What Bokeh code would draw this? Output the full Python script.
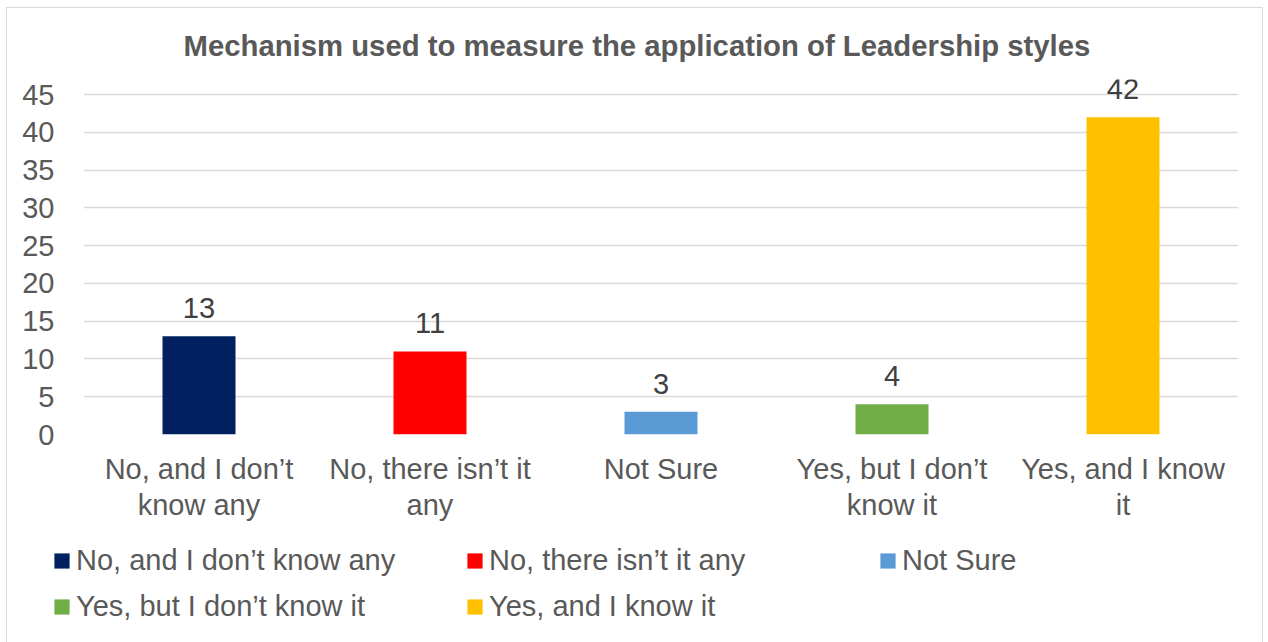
from bokeh.plotting import figure
from bokeh.layouts import column
from bokeh.models import (ColumnDataSource, FactorRange, Range1d, LabelSet, Legend,
                          LegendItem, FixedTicker)
from bokeh.core.properties import value
from bokeh.embed import file_html
from bokeh.resources import INLINE

categories = ["No, and I don\u2019t know any", "No, there isn\u2019t it any", "Not Sure",
              "Yes, but I don\u2019t know it", "Yes, and I know it"]
wrapped = ["No, and I don\u2019t\nknow any", "No, there isn\u2019t it\nany", "Not Sure",
           "Yes, but I don\u2019t\nknow it", "Yes, and I know\nit"]
values = [13, 11, 3, 4, 42]
colors = ["#002060", "#FF0000", "#5B9BD5", "#70AD47", "#FFC000"]
y_ticks = [0, 5, 10, 15, 20, 25, 30, 35, 40, 45]
title_text = "Mechanism used to measure the application of Leadership styles"

FONT = "Liberation Sans"
TXT = "#595959"

src = ColumnDataSource(dict(cat=wrapped, val=values, color=colors,
                            lab=[str(v) for v in values], name=categories))

# ---- main chart ----
p = figure(width=1255, height=530, x_range=FactorRange(*wrapped),
           y_range=Range1d(0, 47), output_backend="svg", toolbar_location=None,
           min_border_left=76, min_border_right=24, min_border_top=71,
           min_border_bottom=104)
p.outline_line_color = None
p.background_fill_color = "white"
p.border_fill_color = "white"

p.title.text = title_text
p.title.align = "left"
p.title.offset = 100
p.title.text_font = FONT
p.title.text_font_size = "29.3px"
p.title.text_font_style = "bold"
p.title.text_color = TXT
p.title.standoff = 35

p.vbar(x="cat", top="val", width=0.316, source=src, color="color", line_color=None)

labels = LabelSet(x="cat", y="val", text="lab", source=src, y_offset=18,
                  text_align="center", text_baseline="alphabetic",
                  text_font=value(FONT), text_font_size="29px", text_color="#404040")
p.add_layout(labels)

p.xgrid.grid_line_color = None
p.ygrid.grid_line_color = "#D9D9D9"
p.ygrid.grid_line_width = 1.5
p.yaxis.ticker = FixedTicker(ticks=y_ticks)
for ax in (p.xaxis[0], p.yaxis[0]):
    ax.axis_line_color = None
    ax.major_tick_line_color = None
    ax.minor_tick_line_color = None
    ax.major_tick_out = 0
    ax.major_tick_in = 0
    ax.major_label_text_font = FONT
    ax.major_label_text_font_size = "29px"
    ax.major_label_text_color = TXT
p.yaxis.major_label_standoff = 29
p.xaxis.major_label_standoff = 18
p.xaxis.major_label_text_line_height = 1.14

# ---- legend strip ----
q = figure(width=1255, height=110, x_range=FactorRange(*wrapped),
           y_range=Range1d(100, 200), output_backend="svg", toolbar_location=None,
           x_axis_location=None, y_axis_location=None,
           min_border=0, min_border_left=0, min_border_right=0,
           min_border_top=0, min_border_bottom=0)
q.grid.visible = False
q.outline_line_color = None
q.border_fill_alpha = 0
q.background_fill_alpha = 0
q.styles = {"transform": "translateX(-31px)"}
renderers = []
for i in range(len(categories)):
    s = ColumnDataSource(dict(cat=[wrapped[i]], val=[values[i]]))
    renderers.append(q.vbar(x="cat", top="val", width=0.316, source=s,
                            color=colors[i], line_color=None))

legend = Legend(items=[LegendItem(label=c, renderers=[r]) for c, r in zip(categories, renderers)],
                location=(0, 25), orientation="horizontal", ncols=3,
                glyph_width=19, glyph_height=19, label_standoff=5,
                label_width=377, label_height=34, spacing=12, padding=0, margin=0,
                border_line_color=None, background_fill_alpha=0,
                label_text_font=FONT, label_text_font_size="29px", label_text_color=TXT)
q.add_layout(legend, "center")

layout = column(p, q, spacing=0)
layout.styles = {"border": "1px solid #D9D9D9", "margin-left": "6px", "margin-top": "7px"}

open("out.html", "w").write(file_html(layout, INLINE))
